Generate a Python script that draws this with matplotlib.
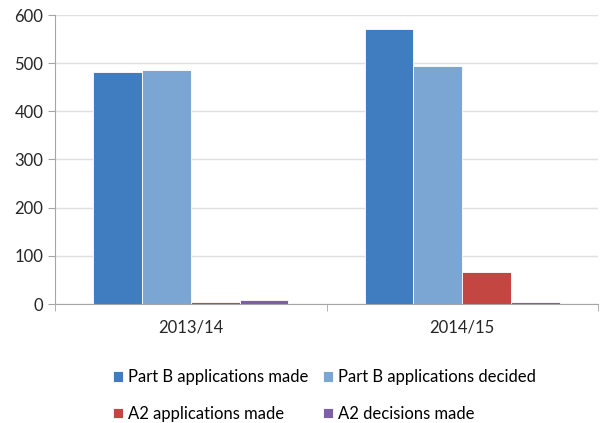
import numpy as np
import matplotlib.pyplot as plt

# dane
years = ['2013/14', '2014/15']
series = ['Part B applications made', 'Part B applications decided',
          'A2 applications made', 'A2 decisions made']
part_b_made = [481, 571]
part_b_decided = [485, 494]
a2_made = [5, 66]
a2_decisions = [8, 5]
colors = ['#3F7CC0', '#7BA5D3', '#C34643', '#7D5FA5']

plt.rcParams['font.family'] = ['Lato', 'DejaVu Sans']

fig = plt.figure(figsize=(6.06, 4.23), dpi=100)
ax = fig.add_axes([55 / 606, 1 - 304 / 423, 543 / 606, 289 / 423])

x = np.arange(len(years))
w = 0.18
values = [part_b_made, part_b_decided, a2_made, a2_decisions]
bars = []
for i, (vals, lab, c) in enumerate(zip(values, series, colors)):
    b = ax.bar(x + (i - 1.5) * w, vals, w, color=c, edgecolor='white',
               linewidth=0.6, label=lab, zorder=3)
    bars.append(b)

ax.set_xlim(-0.5, 1.5)
ax.set_ylim(0, 600)
ax.set_yticks(range(0, 601, 100))
ax.grid(axis='y', color='#E0E0E0', linewidth=1, zorder=0)

ax.set_xticks(x)
ax.set_xticklabels(years)
ax.set_xticks([-0.5, 0.5, 1.5], minor=True)
ax.tick_params(axis='x', which='major', length=0, pad=11, labelsize=12, colors='#262626')
ax.tick_params(axis='x', which='minor', length=5, color='#A6A6A6')
ax.tick_params(axis='y', length=5, color='#A6A6A6', labelsize=12, labelcolor='#262626')

for s in ['top', 'right']:
    ax.spines[s].set_visible(False)
for s in ['left', 'bottom']:
    ax.spines[s].set_color('#A6A6A6')

# kolejnosc wierszami jak w oryginale
order = [0, 2, 1, 3]
fig.legend([bars[i] for i in order], [series[i] for i in order],
           loc='lower left', bbox_to_anchor=(98 / 606, -0.033), ncol=2,
           frameon=False, fontsize=12, handlelength=0.6, handleheight=0.6,
           handletextpad=0.3, columnspacing=0.85, labelspacing=1.25)

plt.savefig('out.png', dpi=100)
